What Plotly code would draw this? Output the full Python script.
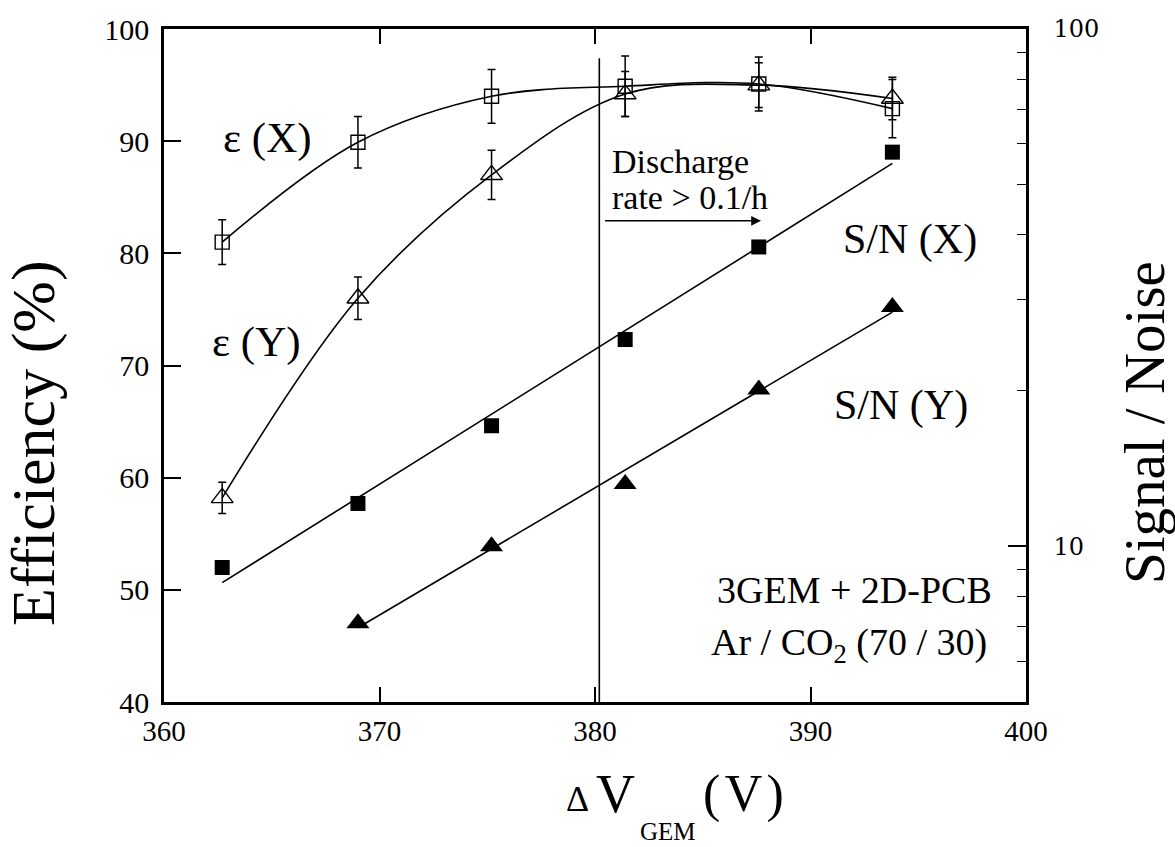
import numpy as np
import plotly.graph_objects as go

# GEM voltage settings (V)
dv_gem = [362.7, 369.0, 375.2, 381.4, 387.6, 393.8]

# Detection efficiency (%) with errors
eff_x = [81.0, 89.9, 94.0, 94.9, 95.1, 92.9]
eff_x_err = [2.0, 2.3, 2.4, 2.7, 2.4, 2.6]
eff_y = [58.2, 76.0, 87.0, 94.2, 95.0, 93.8]
eff_y_err = [1.4, 1.9, 2.2, 2.0, 2.0, 1.9]

# Signal / noise ratio
sn_x = [9.1, 12.1, 17.1, 25.1, 37.9, 57.8]
dv_sn_y = [369.0, 375.2, 381.4, 387.6, 393.8]
sn_y = [7.1, 10.0, 13.2, 20.1, 29.0]

# Right-axis tick marks
sn_major = [10, 100]
sn_minor = [5, 6, 7, 8, 9, 20, 30, 40, 50, 60, 70, 80, 90]

SERIF = "Liberation Serif"
BLACK = "black"

# plot area in pixels
L, R, T, B = 164, 1026, 24, 702
W, H = 1175, 847


def px(xp):
    return (xp - L) / (R - L)


def py(yp):
    return (B - yp) / (B - T)


def exp_fit(xs, ys):
    k, c = np.polyfit(xs, np.log10(ys), 1)
    xf = np.array([min(xs), max(xs)])
    return xf, 10 ** (k * xf + c)


fig = go.Figure()

err_style = dict(type="data", visible=True, color=BLACK, thickness=1.5, width=4)

fig.add_trace(go.Scatter(
    x=dv_gem, y=eff_x, mode="lines+markers", line=dict(color=BLACK, width=1.6, shape="spline"),
    marker=dict(symbol="square-open", size=14, color=BLACK, line=dict(width=1.4)),
    error_y=dict(array=eff_x_err, **err_style), showlegend=False))

fig.add_trace(go.Scatter(
    x=dv_gem, y=eff_y, mode="lines+markers", line=dict(color=BLACK, width=1.6, shape="spline"),
    marker=dict(symbol="triangle-up-open", size=19, color=BLACK, line=dict(width=1.4)),
    error_y=dict(array=eff_y_err, **err_style), showlegend=False))

fx, fy = exp_fit(dv_gem, sn_x)
fig.add_trace(go.Scatter(x=fx, y=fy, mode="lines", line=dict(color=BLACK, width=1.6),
                         yaxis="y2", showlegend=False))
fig.add_trace(go.Scatter(x=dv_gem, y=sn_x, mode="markers", yaxis="y2",
                         marker=dict(symbol="square", size=15, color=BLACK), showlegend=False))

fx, fy = exp_fit(dv_sn_y, sn_y)
fig.add_trace(go.Scatter(x=fx, y=fy, mode="lines", line=dict(color=BLACK, width=1.6),
                         yaxis="y2", showlegend=False))
fig.add_trace(go.Scatter(x=dv_sn_y, y=sn_y, mode="markers", yaxis="y2",
                         marker=dict(symbol="triangle-up", size=20, color=BLACK), showlegend=False))

# discharge threshold
fig.add_shape(type="line", xref="x", yref="y", x0=380.2, x1=380.2, y0=40, y1=97.4,
              line=dict(color=BLACK, width=1.6))

annotations = [
    dict(x=387.7, y=82.9, ax=380.4, ay=82.9, axref="x", ayref="y", xref="x", yref="y",
         text="", showarrow=True, arrowhead=2, arrowsize=1.3, arrowwidth=1.5, arrowcolor=BLACK),
    dict(x=364.8, y=90.3, text="ε (X)", size=43),
    dict(x=364.3, y=72.1, text="ε (Y)", size=43),
    dict(x=380.7, y=88.2, text="Discharge", size=34, xanchor="left"),
    dict(x=380.7, y=85.0, text="rate > 0.1/h", size=34, xanchor="left"),
    dict(x=394.6, y=81.2, text="S/N (X)", size=42),
    dict(x=394.2, y=66.4, text="S/N (Y)", size=42),
    dict(x=398.5, y=50.0, text="3GEM + 2D-PCB", size=38, xanchor="right"),
    dict(x=398.3, y=45.1, text="Ar / CO<sub>2</sub> (70 / 30)", size=38, xanchor="right"),
]

ann_list = []
for a in annotations:
    a = dict(a)
    size = a.pop("size", 30)
    a.setdefault("xref", "x")
    a.setdefault("yref", "y")
    a.setdefault("showarrow", False)
    a["font"] = dict(family=SERIF, size=size, color=BLACK)
    ann_list.append(a)


def paper_text(x, y, text, size, xanchor="center", angle=0):
    return dict(xref="paper", yref="paper", x=px(x), y=py(y), text=text, textangle=angle,
                xanchor=xanchor, yanchor="middle", showarrow=False,
                font=dict(family=SERIF, size=size, color=BLACK))


# axis titles
ann_list.append(paper_text(34, 441, "Efficiency (%)", 62, angle=-90))
ann_list.append(paper_text(1144, 421, "Signal / Noise", 57, angle=-90))
ann_list.append(paper_text(591, 800, "Δ", 36, xanchor="right"))
ann_list.append(paper_text(594, 795, "V", 54, xanchor="left"))
ann_list.append(paper_text(638, 832, "GEM", 25, xanchor="left"))
ann_list.append(paper_text(701, 795, "(\u200aV\u200a)", 52, xanchor="left"))

fig.update_layout(
    width=W, height=H,
    margin=dict(l=L, r=W - R, t=T, b=H - B, pad=0),
    paper_bgcolor="white", plot_bgcolor="white",
    showlegend=False,
    annotations=ann_list,
    xaxis=dict(range=[360, 400], tickvals=[360, 370, 380, 390, 400], showgrid=False, zeroline=False,
               showline=True, linecolor=BLACK, linewidth=2.5, mirror="ticks",
               ticks="inside", ticklen=15, tickwidth=1.6, tickcolor=BLACK,
               tickfont=dict(family=SERIF, size=29, color=BLACK), ticklabelstandoff=1),
    yaxis=dict(range=[40, 100], tickvals=[40, 50, 60, 70, 80, 90, 100], showgrid=False, zeroline=False,
               showline=True, linecolor=BLACK, linewidth=2.5,
               ticks="inside", ticklen=17, tickwidth=1.6, tickcolor=BLACK,
               tickfont=dict(family=SERIF, size=30, color=BLACK), ticklabelstandoff=6),
    yaxis2=dict(type="log", range=[np.log10(5), 2], overlaying="y", side="right",
                showgrid=False, zeroline=False, showline=True, linecolor=BLACK, linewidth=2.5,
                tickmode="array", tickvals=sn_major, ticktext=[str(v) for v in sn_major],
                ticks="inside", ticklen=18, tickwidth=1.6, tickcolor=BLACK,
                tickfont=dict(family="DejaVu Serif", size=24, color=BLACK), ticklabelstandoff=20,
                minor=dict(tickmode="array", tickvals=sn_minor, ticks="inside", ticklen=9,
                           tickwidth=1.4, tickcolor=BLACK, showgrid=False)),
)

fig.write_html("out.html")
